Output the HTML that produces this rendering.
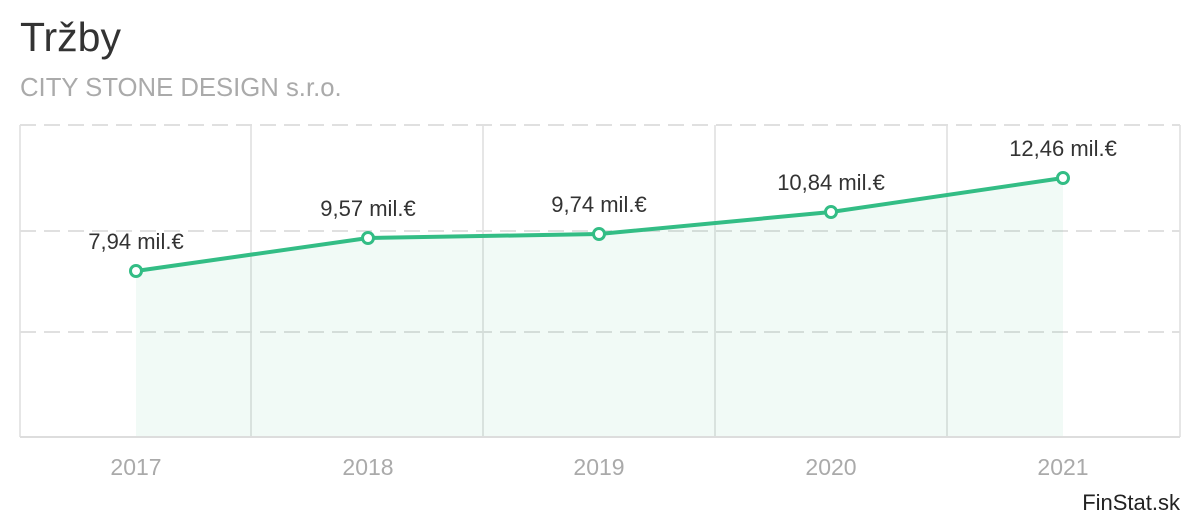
<!DOCTYPE html><html><head><meta charset="utf-8"><style>body{margin:0;background:#fff}svg{display:block;font-family:"Liberation Sans",sans-serif}</style></head><body>
<svg width="1200" height="520" xmlns="http://www.w3.org/2000/svg">
<text x="20" y="51" font-size="41" fill="#333">Tržby</text>
<text x="20" y="96" font-size="25.7" fill="#aaa">CITY STONE DESIGN s.r.o.</text>
<g stroke="#e6e6e6" stroke-width="2">
<line x1="20" y1="125" x2="20" y2="437"/><line x1="251" y1="125" x2="251" y2="437"/><line x1="483" y1="125" x2="483" y2="437"/><line x1="715" y1="125" x2="715" y2="437"/><line x1="947" y1="125" x2="947" y2="437"/><line x1="1180" y1="125" x2="1180" y2="437"/>
</g>
<g stroke="#e0e0e0" stroke-width="2" stroke-dasharray="16,8">
<line x1="20" y1="125" x2="1180" y2="125"/><line x1="20" y1="231" x2="1180" y2="231"/><line x1="20" y1="332" x2="1180" y2="332"/>
</g>
<line x1="20" y1="437" x2="1180" y2="437" stroke="#ddd" stroke-width="2"/>
<polygon points="136,271 368,238 599,234 831,212 1063,178 1063,436 136,436" fill="#33bd85" fill-opacity="0.07"/>
<polyline points="136,271 368,238 599,234 831,212 1063,178" fill="none" stroke="#33bd85" stroke-width="4"/>
<g fill="#fff" stroke="#33bd85" stroke-width="3">
<circle cx="136" cy="271" r="5.5"/><circle cx="368" cy="238" r="5.5"/><circle cx="599" cy="234" r="5.5"/><circle cx="831" cy="212" r="5.5"/><circle cx="1063" cy="178" r="5.5"/>
</g>
<g font-size="22" fill="#333" text-anchor="middle">
<text x="136" y="249">7,94 mil.€</text><text x="368" y="216">9,57 mil.€</text><text x="599" y="212">9,74 mil.€</text><text x="831" y="190">10,84 mil.€</text><text x="1063" y="156">12,46 mil.€</text>
</g>
<g font-size="23" fill="#aaa" text-anchor="middle">
<text x="136" y="475">2017</text><text x="368" y="475">2018</text><text x="599" y="475">2019</text><text x="831" y="475">2020</text><text x="1063" y="475">2021</text>
</g>
<text x="1180" y="510" font-size="22" fill="#222" text-anchor="end">FinStat.sk</text>
</svg></body></html>
